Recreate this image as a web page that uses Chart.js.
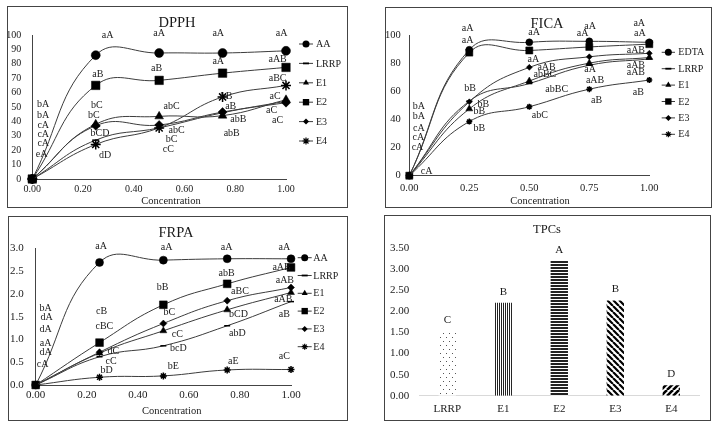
<!DOCTYPE html>
<html><head><meta charset="utf-8">
<script src="https://cdn.jsdelivr.net/npm/chart.js@4.4.1/dist/chart.umd.min.js"></script>
<style>
html,body{margin:0;padding:0;background:#fff;width:720px;height:427px;overflow:hidden;}
.panel{position:absolute;box-sizing:border-box;border:1px solid #444;background:#fff;}
.panel canvas{position:absolute;left:0;top:0;}
</style></head><body>
<div class="panel" style="left:7px;top:6px;width:341px;height:202px"><canvas id="c1" width="339" height="200"></canvas></div>
<div class="panel" style="left:385px;top:7px;width:327px;height:201px"><canvas id="c2" width="325" height="199"></canvas></div>
<div class="panel" style="left:8px;top:216px;width:340px;height:205px"><canvas id="c3" width="338" height="203"></canvas></div>
<div class="panel" style="left:384px;top:215px;width:327px;height:206px"><canvas id="c4" width="325" height="204"></canvas></div>
<script>
// ---------- DATA ----------
const conc = [0, 0.25, 0.5, 0.75, 1.0];

const dpphNames = ['AA', 'LRRP', 'E1', 'E2', 'E3', 'E4'];
const dpphAA   = [0, 86, 87.5, 87.5, 89];
const dpphLRRP = [0, 27, 35.5, 46, 54];
const dpphE1   = [0, 38, 43.5, 44, 55];
const dpphE2   = [0, 65, 68.5, 73.5, 77.5];
const dpphE3   = [0, 37, 37.5, 46.5, 53];
const dpphE4   = [0, 24, 35.5, 57, 65];
const dpphNotes = [
  [0.297, 100, 'aA'], [0.50, 101, 'aA'], [0.733, 101, 'aA'], [0.983, 101, 'aA'],
  [0.258, 73, 'aB'], [0.49, 77, 'aB'], [0.733, 81.5, 'aA'], [0.967, 83, 'aAB'],
  [0.967, 70, 'aBC'], [0.766, 57.6, 'bB'], [0.957, 57.6, 'aC'], [0.782, 50.7, 'aB'],
  [0.812, 41.4, 'abB'], [0.943, 48, 'aC'], [0.967, 40.5, 'aC'], [0.786, 31.7, 'abB'],
  [0.549, 50.7, 'abC'], [0.569, 33.5, 'abC'], [0.549, 27.5, 'bC'], [0.536, 20.6, 'cC'],
  [0.254, 51.4, 'bC'], [0.243, 44.4, 'bC'], [0.267, 31.7, 'bCD'], [0.287, 16.7, 'dD'],
  [0.043, 52, 'bA'], [0.043, 44.4, 'bA'], [0.043, 37.5, 'cA'], [0.043, 31, 'cA'],
  [0.043, 24.8, 'cA'], [0.037, 17.1, 'eA']
];

const ficaNames = ['EDTA', 'LRRP', 'E1', 'E2', 'E3', 'E4'];
const ficaEDTA = [0, 89.5, 94.8, 95.5, 94.8];
const ficaLRRP = [0, 53, 65.5, 78.5, 83];
const ficaE1   = [0, 47.5, 67.3, 80, 84];
const ficaE2   = [0, 87.5, 89, 91.5, 93.5];
const ficaE3   = [0, 52.5, 77, 84.5, 87];
const ficaE4   = [0, 38.5, 49, 61.5, 68];
const ficaNotes = [
  [0.243, 104.7, 'aA'], [0.243, 96, 'aA'], [0.52, 101.9, 'aA'], [0.722, 101, 'aA'],
  [0.753, 106, 'aA'], [0.958, 108, 'aA'], [0.961, 101, 'aA'], [0.944, 89.3, 'aAB'],
  [0.517, 83, 'aA'], [0.572, 76.8, 'aAB'], [0.565, 72.3, 'abBC'], [0.614, 61.4, 'abBC'],
  [0.753, 75.6, 'aA'], [0.944, 78.7, 'aAB'], [0.944, 73.2, 'aAB'], [0.774, 67.5, 'aAB'],
  [0.78, 53.3, 'aB'], [0.954, 59, 'aB'], [0.544, 42.9, 'abC'],
  [0.253, 62.3, 'bB'], [0.308, 50.9, 'bB'], [0.292, 46, 'bB'], [0.292, 33.6, 'bB'],
  [0.04, 49, 'bA'], [0.04, 42, 'bA'], [0.04, 33.6, 'cA'], [0.038, 27, 'cA'],
  [0.034, 20, 'cA'], [0.072, 3.3, 'cA']
];

const frpaNames = ['AA', 'LRRP', 'E1', 'E2', 'E3', 'E4'];
const frpaAA   = [0, 2.69, 2.74, 2.77, 2.77];
const frpaLRRP = [0, 0.62, 0.86, 1.30, 1.83];
const frpaE1   = [0, 0.70, 1.19, 1.65, 2.03];
const frpaE2   = [0, 0.93, 1.76, 2.22, 2.58];
const frpaE3   = [0, 0.72, 1.35, 1.85, 2.14];
const frpaE4   = [0, 0.17, 0.20, 0.33, 0.34];
const frpaNotes = [
  [0.256, 3.04, 'aA'], [0.513, 3.01, 'aA'], [0.748, 3.01, 'aA'], [0.974, 3.01, 'aA'],
  [0.963, 2.58, 'aAB'], [0.748, 2.45, 'abB'], [0.976, 2.30, 'aAB'], [0.80, 2.05, 'aBC'],
  [0.97, 1.87, 'aAB'], [0.497, 2.14, 'bB'], [0.523, 1.59, 'bC'], [0.974, 1.56, 'aB'],
  [0.794, 1.55, 'bCD'], [0.555, 1.11, 'cC'], [0.79, 1.13, 'abD'], [0.559, 0.80, 'bcD'],
  [0.258, 1.61, 'cB'], [0.269, 1.28, 'cBC'], [0.304, 0.73, 'dC'], [0.295, 0.51, 'cC'],
  [0.278, 0.31, 'bD'], [0.539, 0.40, 'bE'], [0.774, 0.51, 'aE'], [0.974, 0.62, 'aC'],
  [0.039, 1.68, 'bA'], [0.043, 1.49, 'dA'], [0.039, 1.23, 'dA'], [0.039, 0.91, 'aA'],
  [0.039, 0.71, 'dA'], [0.027, 0.46, 'cA']
];

const tpcCats = ['LRRP', 'E1', 'E2', 'E3', 'E4'];
const tpcVals = [1.54, 2.21, 3.2, 2.26, 0.25];
const tpcLetters = ['C', 'B', 'A', 'B', 'D'];

// ---------- STYLE ----------
const SERIF = '"Liberation Serif", "Times New Roman", serif';
const TXT = '#1a1a1a';
const LINE = '#3c3c3c';
const STYLES = ['circle', 'line', 'triangle', 'rect', 'rectRot', 'star'];

function drawMarker(ctx, style, x, y, r) {
  ctx.save();
  ctx.fillStyle = '#000'; ctx.strokeStyle = '#000'; ctx.lineWidth = 1.2;
  ctx.beginPath();
  if (style === 'circle') { ctx.arc(x, y, r, 0, Math.PI * 2); ctx.fill(); }
  else if (style === 'rect') { const s = r * Math.SQRT1_2; ctx.rect(x - s, y - s, 2 * s, 2 * s); ctx.fill(); }
  else if (style === 'rectRot') { ctx.moveTo(x, y - r); ctx.lineTo(x + r, y); ctx.lineTo(x, y + r); ctx.lineTo(x - r, y); ctx.closePath(); ctx.fill(); }
  else if (style === 'triangle') {
    for (let k = 0; k < 3; k++) { const a = -Math.PI / 2 + k * 2 * Math.PI / 3; const px = x + Math.cos(a) * r, py = y + Math.sin(a) * r; k ? ctx.lineTo(px, py) : ctx.moveTo(px, py); }
    ctx.closePath(); ctx.fill();
  }
  else if (style === 'line') { ctx.lineWidth = 1.8; ctx.moveTo(x - r, y); ctx.lineTo(x + r, y); ctx.stroke(); }
  else if (style === 'star') {
    for (let k = 0; k < 4; k++) { const a = k * Math.PI / 4; ctx.moveTo(x - Math.cos(a) * r, y - Math.sin(a) * r); ctx.lineTo(x + Math.cos(a) * r, y + Math.sin(a) * r); }
    ctx.stroke();
  }
  ctx.restore();
}

const deco = {
  id: 'deco',
  afterDraw(chart, args, o) {
    const ctx = chart.ctx;
    ctx.save();
    ctx.fillStyle = TXT; ctx.textAlign = 'center'; ctx.textBaseline = 'middle';
    const sx = chart.scales.x, sy = chart.scales.y;
    if (o.notes) {
      ctx.font = o.noteSize + 'px ' + SERIF;
      o.notes.forEach(n => ctx.fillText(n[2], sx.getPixelForValue(n[0]), sy.getPixelForValue(n[1])));
    }
    if (o.barLetters) {
      ctx.font = o.noteSize + 'px ' + SERIF;
      const meta = chart.getDatasetMeta(0);
      o.barLetters.forEach((t, i) => { const el = meta.data[i]; ctx.fillText(t, el.x, el.y - o.letterGap); });
    }
    if (o.title) { ctx.font = o.titleSize + 'px ' + SERIF; ctx.fillText(o.title, o.titleX, o.titleY); }
    if (o.axisTitle) { ctx.font = o.axisSize + 'px ' + SERIF; ctx.fillText(o.axisTitle, o.axisX, o.axisY); }
    if (o.legend) {
      const L = o.legend;
      ctx.font = L.size + 'px ' + SERIF; ctx.textAlign = 'left';
      L.names.forEach((nm, i) => {
        const y = L.y0 + i * L.dy;
        ctx.strokeStyle = LINE; ctx.lineWidth = 1;
        ctx.beginPath(); ctx.moveTo(L.x0, y); ctx.lineTo(L.x1, y); ctx.stroke();
        drawMarker(ctx, STYLES[i], (L.x0 + L.x1) / 2, y, L.radii[i]);
        ctx.fillStyle = TXT; ctx.fillText(nm, L.tx, y + 0.5);
      });
    }
    ctx.restore();
  }
};

function lineChart(id, names, values, cfg) {
  const datasets = values.map((vals, i) => ({
    label: names[i],
    data: conc.map((x, k) => ({ x: x, y: vals[k] })),
    borderColor: LINE, borderWidth: 1, tension: cfg.tension, fill: false,
    pointStyle: STYLES[i], pointRadius: cfg.radii[i],
    pointBackgroundColor: '#000', pointBorderColor: '#000',
    pointBorderWidth: (STYLES[i] === 'star' || STYLES[i] === 'line') ? 1.5 : 0.5,
    clip: false, order: -i
  }));
  const tickFont = { family: SERIF, size: cfg.tickSize };
  new Chart(document.getElementById(id), {
    type: 'line',
    data: { datasets },
    options: {
      responsive: false, animation: false, events: [],
      layout: { padding: { left: 0, top: cfg.top, right: cfg.right, bottom: 0 } },
      elements: { line: { capBezierPoints: false } },
      scales: {
        x: {
          type: 'linear', min: 0, max: 1,
          ticks: { stepSize: cfg.xStep, autoSkip: false, maxRotation: 0, font: tickFont, color: TXT, padding: cfg.xPad, callback: v => Number(v).toFixed(2) },
          grid: { display: false, drawTicks: false },
          border: { display: true, color: '#444', width: 1 },
          afterFit: s => { s.height = cfg.xh; }
        },
        y: {
          type: 'linear', min: 0, max: cfg.yMax,
          ticks: { stepSize: cfg.yStep, autoSkip: false, font: tickFont, color: TXT, padding: cfg.yPad, callback: v => Number(v).toFixed(cfg.yDec) },
          grid: { display: false, drawTicks: false },
          border: { display: true, color: '#444', width: 1 },
          afterFit: s => { s.width = cfg.yw; }
        }
      },
      plugins: { legend: { display: false }, tooltip: { enabled: false }, title: { display: false }, deco: cfg.deco }
    },
    plugins: [deco]
  });
}

lineChart('c1', dpphNames, [dpphAA, dpphLRRP, dpphE1, dpphE2, dpphE3, dpphE4], {
  tension: 0.45, radii: [4.5, 3.5, 5, 6, 4.5, 5],
  top: 28, right: 61, xh: 28, yw: 24.3,
  xStep: 0.2, yMax: 100, yStep: 10, yDec: 0, tickSize: 10, xPad: 4, yPad: 11,
  deco: {
    notes: dpphNotes, noteSize: 10,
    title: 'DPPH', titleSize: 14.5, titleX: 169, titleY: 16,
    axisTitle: 'Concentration', axisSize: 10.5, axisX: 163, axisY: 194,
    legend: { names: dpphNames, x0: 291, x1: 305, tx: 308, y0: 37, dy: 19.4, size: 10, radii: [3.5, 3, 3.5, 4.5, 3, 3.5] }
  }
});

lineChart('c2', ficaNames, [ficaEDTA, ficaLRRP, ficaE1, ficaE2, ficaE3, ficaE4], {
  tension: 0.45, radii: [3.5, 3, 4, 5, 3, 3],
  top: 27, right: 61.7, xh: 31.3, yw: 23.3,
  xStep: 0.25, yMax: 100, yStep: 20, yDec: 0, tickSize: 10.5, xPad: 6, yPad: 8.6,
  deco: {
    notes: ficaNotes, noteSize: 10,
    title: 'FICA', titleSize: 14.5, titleX: 161, titleY: 16,
    axisTitle: 'Concentration', axisSize: 10.5, axisX: 154, axisY: 193,
    legend: { names: ficaNames, x0: 275.7, x1: 289, tx: 292.3, y0: 44.3, dy: 16.4, size: 10, radii: [3.5, 3, 3.5, 4.5, 3, 3] }
  }
});

lineChart('c3', frpaNames, [frpaAA, frpaLRRP, frpaE1, frpaE2, frpaE3, frpaE4], {
  tension: 0.45, radii: [4, 3, 4, 5.5, 3.5, 3.5],
  top: 31.3, right: 56, xh: 35, yw: 26.7,
  xStep: 0.2, yMax: 3, yStep: 0.5, yDec: 1, tickSize: 11, xPad: 4, yPad: 12,
  deco: {
    notes: frpaNotes, noteSize: 10,
    title: 'FRPA', titleSize: 14.5, titleX: 167, titleY: 16,
    axisTitle: 'Concentration', axisSize: 10.5, axisX: 162.7, axisY: 194,
    legend: { names: frpaNames, x0: 288.7, x1: 302.7, tx: 304.3, y0: 40.7, dy: 17.8, size: 10, radii: [3.5, 3, 3.5, 4.5, 3, 3] }
  }
});

// ---------- TPCs bar patterns ----------
function makePattern(kind) {
  const c = document.createElement('canvas');
  const ctx = c.getContext('2d');
  if (kind === 'dots') {
    c.width = 6; c.height = 8;
    ctx.fillStyle = '#fff'; ctx.fillRect(0, 0, 6, 8);
    ctx.fillStyle = '#555'; ctx.fillRect(1, 1, 1, 1); ctx.fillRect(4, 5, 1, 1);
  } else if (kind === 'vert') {
    c.width = 2; c.height = 2;
    ctx.fillStyle = '#fff'; ctx.fillRect(0, 0, 2, 2);
    ctx.fillStyle = '#222'; ctx.fillRect(0, 0, 1, 2);
  } else if (kind === 'horiz') {
    c.width = 2; c.height = 3;
    ctx.fillStyle = '#fff'; ctx.fillRect(0, 0, 2, 3);
    ctx.fillStyle = '#222'; ctx.fillRect(0, 0, 2, 2);
  } else if (kind === 'back' || kind === 'fwd') {
    const s = 6; c.width = s; c.height = s;
    ctx.fillStyle = '#fff'; ctx.fillRect(0, 0, s, s);
    ctx.strokeStyle = '#000'; ctx.lineWidth = kind === 'back' ? 2.2 : 2.6;
    ctx.beginPath();
    for (let i = -1; i <= 1; i++) {
      if (kind === 'back') { ctx.moveTo(i * s, 0); ctx.lineTo(i * s + s, s); }
      else { ctx.moveTo(i * s, s); ctx.lineTo(i * s + s, 0); }
    }
    ctx.stroke();
  }
  return document.getElementById('c4').getContext('2d').createPattern(c, 'repeat');
}
const tpcFills = [makePattern('dots'), makePattern('vert'), makePattern('horiz'), makePattern('back'), makePattern('fwd')];

new Chart(document.getElementById('c4'), {
  type: 'bar',
  data: { labels: tpcCats, datasets: [{ data: tpcVals, backgroundColor: tpcFills, borderWidth: 0, barPercentage: 0.62, categoryPercentage: 0.5 }] },
  options: {
    responsive: false, animation: false, events: [],
    layout: { padding: { left: 0, top: 32.3, right: 10.7, bottom: 0 } },
    scales: {
      x: {
        ticks: { font: { family: SERIF, size: 11 }, color: TXT, padding: 6.7, maxRotation: 0 },
        grid: { display: false, drawTicks: false },
        border: { display: true, color: '#d9d9d9', width: 1 },
        afterFit: s => { s.height = 24.3; }
      },
      y: {
        min: 0, max: 3.5,
        ticks: { stepSize: 0.5, font: { family: SERIF, size: 11 }, color: TXT, padding: 10, callback: v => Number(v).toFixed(2) },
        grid: { display: false, drawTicks: false },
        border: { display: false },
        afterFit: s => { s.width = 34.3; }
      }
    },
    plugins: {
      legend: { display: false }, tooltip: { enabled: false }, title: { display: false },
      deco: { barLetters: tpcLetters, noteSize: 11, letterGap: 11, title: 'TPCs', titleSize: 12.5, titleX: 162, titleY: 14 }
    }
  },
  plugins: [deco]
});
</script>
</body></html>
